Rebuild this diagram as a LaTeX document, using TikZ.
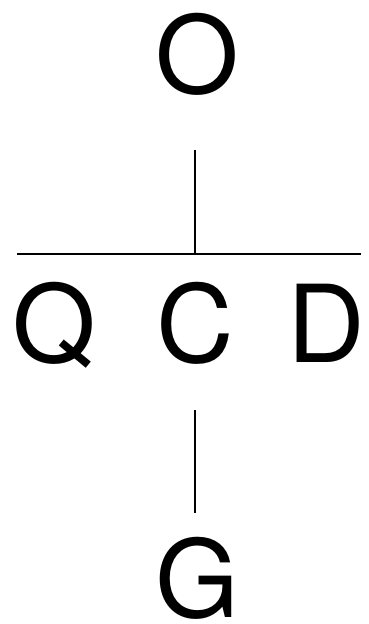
\documentclass[tikz,border=0pt]{standalone}
\usepackage{fontspec}
\setmainfont{TeX Gyre Heros}
\begin{document}
\begin{tikzpicture}[x=1pt,y=1pt,
  lbl/.style={inner sep=0pt,anchor=base,font=\fontsize{107.5}{110}\selectfont},
  conn/.style={line width=2.5pt,black}]
\useasboundingbox (0,0) rectangle (368,624);
\node[lbl] (O) at (197,530) {O};
\node[lbl] (Q) at (54,261) {Q};
\node[lbl] (C) at (195,261) {C};
\node[lbl] (D) at (326,261) {D};
\node[lbl] (G) at (197,6) {G};
\coordinate (ot) at (195,474);
\coordinate (hm) at (195,370);
\coordinate (hl) at (17,370);
\coordinate (hr) at (361,370);
\coordinate (ct) at (195,214);
\coordinate (gt) at (195,111);
\draw[conn] (ot) -- (hm);
\draw[conn] (hl) -- (hr);
\draw[conn] (ct) -- (gt);
\end{tikzpicture}
\end{document}
